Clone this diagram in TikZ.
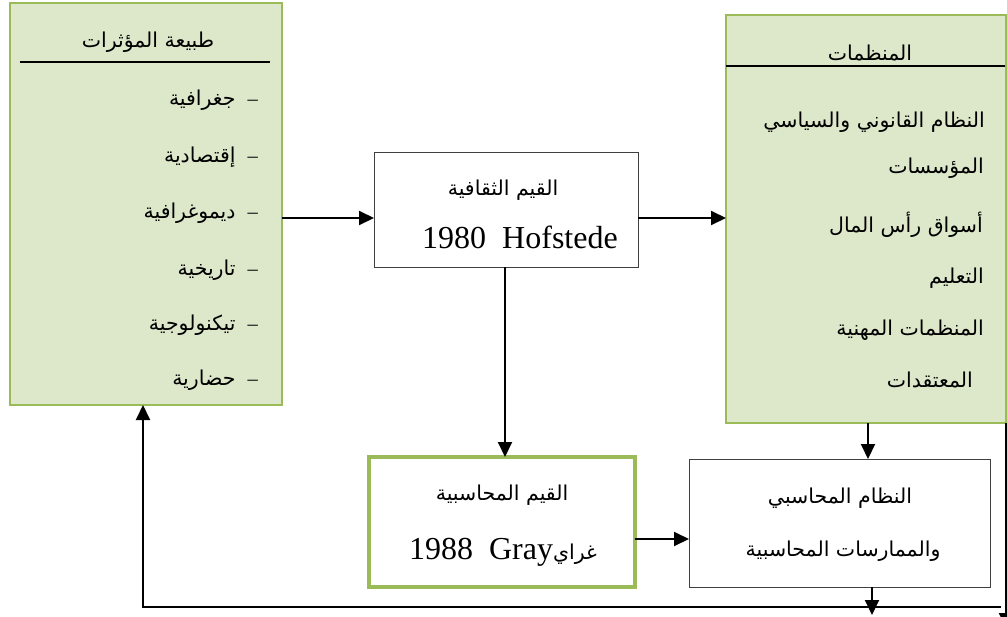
\documentclass[tikz,border=0pt]{standalone}
\usepackage{fontspec}
\setmainfont{Liberation Serif}
\newfontfamily\arabicfont[Script=Arabic]{DejaVu Sans}
\TeXXeTstate=1
\usetikzlibrary{arrows.meta}
\newcommand{\artext}[1]{{\arabicfont\beginR #1\endR}}
\definecolor{boxgreen}{HTML}{9BBB59}
\definecolor{boxfill}{HTML}{DDE8CB}
\definecolor{boxgray}{HTML}{404040}
\tikzset{
  greenpanel/.style={draw=boxgreen, line width=1.5pt, fill=boxfill, inner sep=0pt, outer sep=0pt},
  plainbox/.style={draw=boxgray, line width=1pt, fill=white, inner sep=0pt, outer sep=0pt},
  thickgreen/.style={draw=boxgreen, line width=4pt, fill=white, inner sep=0pt, outer sep=0pt},
  artxt/.style={inner sep=0pt, font=\fontsize{20.5}{24}\selectfont},
  latxt/.style={inner sep=0pt, font=\fontsize{32}{38}\selectfont},
  uline/.style={line width=2pt, black},
  arr/.style={line width=2pt, black, -{Triangle[length=15pt,width=14pt]}},
  conn/.style={line width=2pt, black}
}
\begin{document}
\begin{tikzpicture}[x=1pt,y=-1pt]
\useasboundingbox (0,0) rectangle (1007,616);
% boxes
\node[greenpanel, minimum width=272pt, minimum height=402pt] (L) at (146,204) {};
\node[plainbox, minimum width=264pt, minimum height=115pt] (H) at (506,209.5) {};
\node[greenpanel, minimum width=280pt, minimum height=408pt] (R) at (866,219) {};
\node[thickgreen, minimum width=266pt, minimum height=130pt] (G) at (502,522) {};
\node[plainbox, minimum width=301pt, minimum height=128pt] (N) at (839.5,523) {};
% left panel text
\node[artxt] (Lt) at (148,42) {\artext{طبيعة المؤثرات}};
\draw[uline] (20,62) -- (270,62);
\node[artxt, anchor=east] (L1) at (258,100) {\artext{جغرافية}\hspace{12pt}–};
\node[artxt, anchor=east] (L2) at (258,157) {\artext{إقتصادية}\hspace{12pt}–};
\node[artxt, anchor=east] (L3) at (258,213) {\artext{ديموغرافية}\hspace{12pt}–};
\node[artxt, anchor=east] (L4) at (258,270) {\artext{تاريخية}\hspace{12pt}–};
\node[artxt, anchor=east] (L5) at (258,325) {\artext{تيكنولوجية}\hspace{12pt}–};
\node[artxt, anchor=east] (L6) at (258,380) {\artext{حضارية}\hspace{12pt}–};
% right panel text
\node[artxt] (Rt) at (870,53) {\artext{المنظمات}};
\draw[uline] (726,66) -- (1005,66);
\node[artxt, anchor=east] (R1) at (985,122) {\artext{النظام القانوني والسياسي}};
\node[artxt, anchor=east] (R2) at (984,168) {\artext{المؤسسات}};
\node[artxt, anchor=east] (R3) at (983,225) {\artext{أسواق رأس المال}};
\node[artxt, anchor=east] (R4) at (984,278) {\artext{التعليم}};
\node[artxt, anchor=east] (R5) at (984,330) {\artext{المنظمات المهنية}};
\node[artxt, anchor=east] (R6) at (973,380) {\artext{المعتقدات}};
% middle boxes text
\node[artxt] (H1) at (503,190) {\artext{القيم الثقافية}};
\node[latxt] (H2) at (520,237) {1980\ \ Hofstede};
\node[artxt] (G1) at (502,495) {\artext{القيم المحاسبية}};
\node[latxt] (G2) at (503,552) {1988\ \ Gray{\fontsize{20.5}{24}\selectfont\artext{غراي}}};
\node[artxt] (N1) at (840,498) {\artext{النظام المحاسبي}};
\node[artxt] (N2) at (843,551) {\artext{والممارسات المحاسبية}};
% helper coordinates
\coordinate (yA) at (0,218);
\coordinate (yB) at (0,539);
\coordinate (xC) at (868,0);
\coordinate (xD) at (872,0);
\coordinate (xE) at (143,0);
\coordinate (xF) at (1006,0);
\coordinate (loopR) at (1001,607);
\coordinate (loopL) at (143,607);
\coordinate (nEnd) at (872,615);
\coordinate (rEnd) at (1006,628);
% connectors
\draw[arr] (L.east |- yA) -- (H.west |- yA);
\draw[arr] (H.east |- yA) -- (R.west |- yA);
\draw[arr] (H.south -| 505,0) -- (G.north -| 505,0);
\draw[arr] (G.east |- yB) -- (N.west |- yB);
\draw[arr] (R.south -| xC) -- (N.north -| xC);
\draw[arr] (N.south -| xD) -- (nEnd);
\draw[arr] (loopR) -- (loopL) -- (L.south -| xE);
\draw[arr] (R.south -| xF) -- (rEnd);
\end{tikzpicture}
\end{document}
